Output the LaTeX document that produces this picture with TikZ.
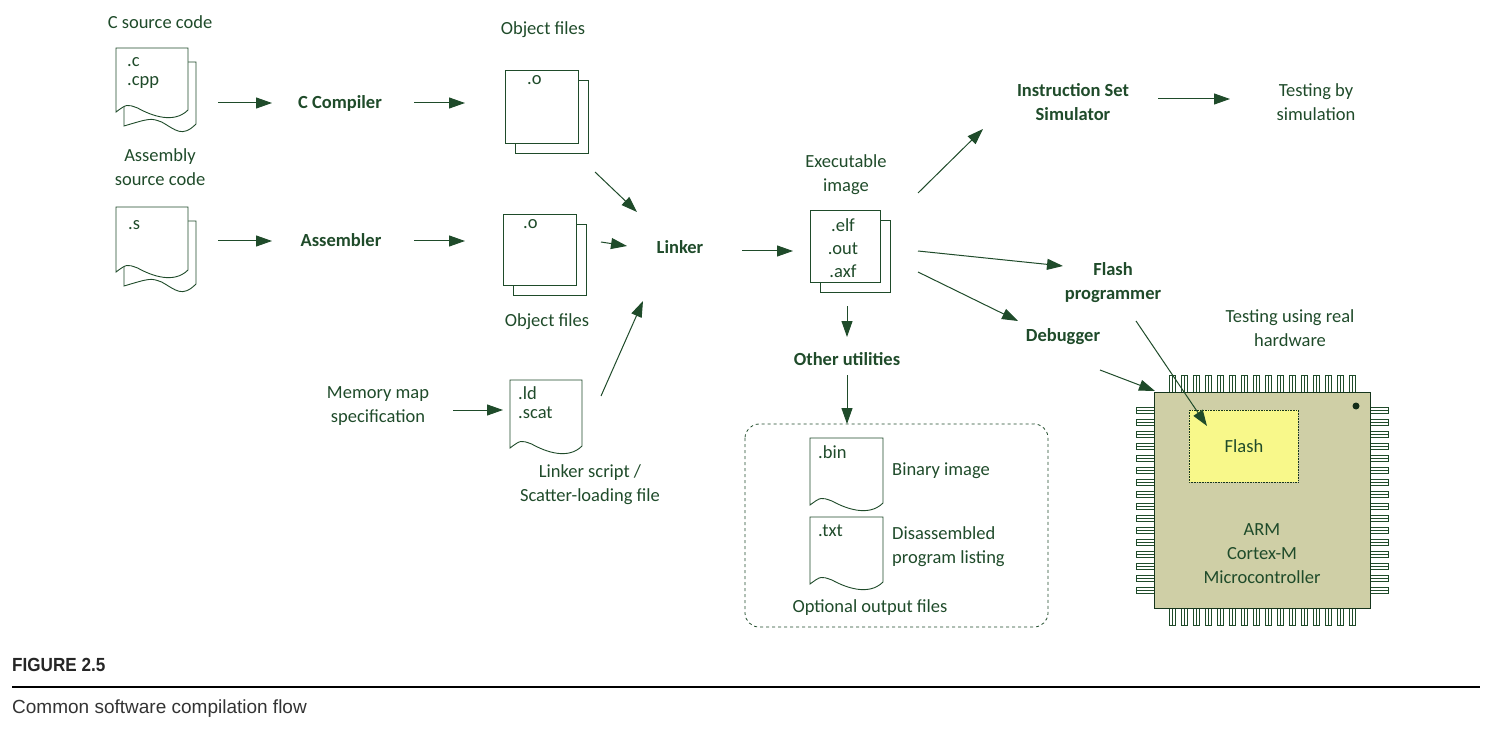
\documentclass[tikz,border=0pt]{standalone}
\usepackage{fontspec}
\setmainfont{Carlito}
\newfontfamily\capfont{Liberation Sans}
\usetikzlibrary{arrows.meta}
\definecolor{dg}{HTML}{1F4B2A}
\definecolor{chipc}{HTML}{CFCFA6}
\definecolor{flashc}{HTML}{F8F88A}
\newcommand{\docpath}[4]{(#1,#2) -- (#3,#2) -- (#3,#4-2) .. controls (#3-14,#4+12) and (#1+0.5*#3-0.5*#1,#4+4) .. (#1+0.3*#3-0.3*#1,#4-4) .. controls (#1+0.15*#3-0.15*#1,#4-8) .. (#1,#4) -- cycle}
\newcommand{\onedoc}[4]{\filldraw[fill=white,draw=dg,line width=0.9pt] \docpath{#1}{#2}{#3}{#4};}
\newcommand{\twodoc}[4]{\onedoc{#1+8}{#2+14}{#3+8}{#4+14}\onedoc{#1}{#2}{#3}{#4}}
\newcommand{\objfile}[4]{\filldraw[fill=white,draw=dg,line width=0.9pt] (#1+10,#2+10) rectangle (#3+10,#4+10);\filldraw[fill=white,draw=dg,line width=0.9pt] (#1,#2) rectangle (#3,#4);}
\begin{document}
\begin{tikzpicture}[x=1pt,y=-1pt,
  txt/.style={text=dg,font=\fontsize{18.5}{24}\selectfont,align=center,inner sep=0pt},
  btxt/.style={txt,font=\fontsize{18.5}{24}\selectfont\bfseries},
  lt/.style={txt,anchor=north west,align=left},
  arr/.style={draw=dg,line width=1pt,-{Triangle[length=16pt,width=11pt]}}]
\useasboundingbox (0,0) rectangle (1492,730);
% source docs
\node[txt] (csrc) at (160,22) {C source code};
\twodoc{116}{48}{188}{112}
\node[lt] (ct) at (127,57) {.c\\[-5pt].cpp};
\node[txt] (asrc) at (160,167) {Assembly\\source code};
\twodoc{116}{207}{188}{272}
\node[lt] (st) at (128,220) {.s};
% compiler row
\coordinate (a1s) at (218,103); \coordinate (a1e) at (272,103);
\draw[arr] (a1s) -- (a1e);
\node[btxt] (cc) at (340,103) {C Compiler};
\coordinate (a2s) at (414,103); \coordinate (a2e) at (465,103);
\draw[arr] (a2s) -- (a2e);
\node[txt] (of1) at (543,30) {Object files};
\objfile{505}{70}{578}{143}
\node[lt] (o1) at (527,75) {.o};
% assembler row
\coordinate (b1s) at (218,241); \coordinate (b1e) at (272,241);
\draw[arr] (b1s) -- (b1e);
\node[btxt] (asm) at (341,240) {Assembler};
\coordinate (b2s) at (414,241); \coordinate (b2e) at (465,241);
\draw[arr] (b2s) -- (b2e);
\objfile{503}{214}{576}{285}
\node[lt] (o2) at (523,219) {.o};
\node[txt] (of2) at (547,322) {Object files};
% linker
\node[btxt] (lnk) at (680,247) {Linker};
\coordinate (l1s) at (595,172); \coordinate (l1e) at (637,212);
\draw[arr] (l1s) -- (l1e);
\coordinate (l2s) at (601,242); \coordinate (l2e) at (627,246);
\draw[arr] (l2s) -- (l2e);
\coordinate (l3s) at (601,396); \coordinate (l3e) at (643,301);
\draw[arr] (l3s) -- (l3e);
% memory map
\node[txt] (mm) at (378,406) {Memory map\\specification};
\coordinate (m1s) at (453,410); \coordinate (m1e) at (503,410);
\draw[arr] (m1s) -- (m1e);
\onedoc{510}{380}{582}{448}
\node[lt] (ldt) at (518,386) {.ld\\[-5pt].scat};
\node[txt] (ls) at (590,485) {Linker script /\\Scatter-loading file};
% exe
\coordinate (e1s) at (742,251); \coordinate (e1e) at (793,251);
\draw[arr] (e1s) -- (e1e);
\node[txt] (exe) at (846,175) {Executable\\image};
\objfile{810}{210}{880}{282}
\node[txt] (et) at (843,248) {.elf\\[-1pt].out\\[-1pt].axf};
% other utilities
\coordinate (u1s) at (847,306); \coordinate (u1e) at (847,337);
\draw[arr] (u1s) -- (u1e);
\node[btxt] (ou) at (847,359) {Other utilities};
\coordinate (u2s) at (847,375); \coordinate (u2e) at (847,424);
\draw[arr] (u2s) -- (u2e);
\draw[dg,dashed,line width=0.8pt,rounded corners=14pt] (745,424) rectangle (1048,627);
\onedoc{810}{438}{883}{505}
\node[lt] (bt) at (818,445) {.bin};
\node[txt,anchor=west] (bi) at (892,471) {Binary image};
\onedoc{810}{517}{883}{584}
\node[lt] (tt) at (818,525) {.txt};
\node[txt,anchor=west,align=left] (dis) at (892,547) {Disassembled\\program listing};
\node[txt] (oof) at (870,608) {Optional output files};
% ISS
\coordinate (s1s) at (918,193); \coordinate (s1e) at (983,129);
\draw[arr] (s1s) -- (s1e);
\node[btxt] (iss) at (1073,102) {Instruction Set\\Simulator};
\coordinate (s2s) at (1158,99); \coordinate (s2e) at (1230,99);
\draw[arr] (s2s) -- (s2e);
\node[txt] (tbs) at (1316,102) {Testing by\\simulation};
% flash programmer / debugger
\coordinate (f1s) at (918,251); \coordinate (f1e) at (1063,266);
\draw[arr] (f1s) -- (f1e);
\node[btxt] (fp) at (1113,283) {Flash\\programmer};
\coordinate (d1s) at (918,272); \coordinate (d1e) at (1018,321);
\draw[arr] (d1s) -- (d1e);
\node[btxt] (dbg) at (1063,337) {Debugger};
\node[txt] (trh) at (1290,328) {Testing using real\\hardware};
% chip
\foreach \i in {0,...,15}{
  \pgfmathsetmacro\px{1172+12*\i}
  \draw[dg,line width=0.6pt] (\px-3,375) rectangle (\px+3,392) (\px,375) -- (\px,392);
  \draw[dg,line width=0.6pt] (\px-3,608) rectangle (\px+3,625) (\px,608) -- (\px,625);
  \pgfmathsetmacro\py{410+12*\i}
  \draw[dg,line width=0.6pt] (1136,\py-3) rectangle (1154,\py+3) (1136,\py) -- (1154,\py);
  \draw[dg,line width=0.6pt] (1370,\py-3) rectangle (1388,\py+3) (1370,\py) -- (1388,\py);
}
\filldraw[fill=chipc,draw=dg!70!black,line width=0.8pt] (1154,392) rectangle (1370,608);
\fill[dg!60!black] (1356,406) circle (3.5pt);
\filldraw[fill=flashc,draw=dg!70!black,line width=0.6pt,densely dotted] (1189,410) rectangle (1298,482);
\node[txt] (fl) at (1244,446) {Flash};
\node[txt] (arm) at (1262,554) {ARM\\Cortex-M\\Microcontroller};
\coordinate (c1s) at (1100,370); \coordinate (c1e) at (1155,391);
\draw[arr] (c1s) -- (c1e);
\coordinate (c2s) at (1136,321); \coordinate (c2e) at (1207,426);
\draw[arr] (c2s) -- (c2e);
% caption
\node[anchor=west,inner sep=0pt,font=\capfont\fontsize{19}{22}\selectfont\bfseries,text=black!85,xscale=0.9,transform shape] (fig) at (12,665) {FIGURE 2.5};
\draw[black,line width=1.2pt] (12,687) -- (1480,687);
\node[anchor=west,inner sep=0pt,font=\capfont\fontsize{19}{22}\selectfont,text=black!80] (cap) at (12,709) {Common software compilation flow};
\end{tikzpicture}
\end{document}
